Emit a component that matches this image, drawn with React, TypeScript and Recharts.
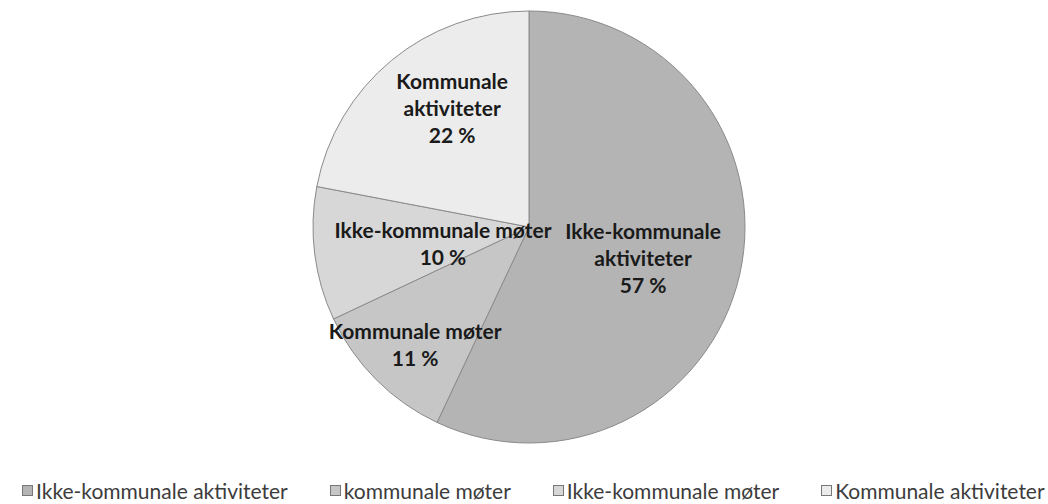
import { PieChart, Pie, Cell, Legend } from 'recharts';

const categories = ['Ikke-kommunale aktiviteter', 'Kommunale møter', 'Ikke-kommunale møter', 'Kommunale aktiviteter'];
const shares = [57, 11, 10, 22];
const labelLines = [
  ['Ikke-kommunale', 'aktiviteter', '57 %'],
  ['Kommunale møter', '11 %'],
  ['Ikke-kommunale møter', '10 %'],
  ['Kommunale', 'aktiviteter', '22 %'],
];
const legendNames = ['Ikke-kommunale aktiviteter', 'kommunale møter', 'Ikke-kommunale møter', 'Kommunale aktiviteter'];
const colors = ['#b4b4b4', '#c6c6c6', '#d7d7d7', '#ececec'];

const data = categories.map((name, i) => ({ name, value: shares[i] }));

// label placement tweaks: radius factor and clockwise angle shift
const labelPos = [
  { r: 0.546, d: 2.1 },
  { r: 0.755, d: -0.7 },
  { r: 0.405, d: -3.3 },
  { r: 0.66, d: 7 },
];

const RAD = Math.PI / 180;

function renderLabel(props: any) {
  const { cx, cy, midAngle, outerRadius, index } = props;
  const p = labelPos[index];
  const ang = midAngle - p.d;
  const rr = outerRadius * p.r;
  const x = cx + rr * Math.cos(-ang * RAD);
  const y = cy + rr * Math.sin(-ang * RAD);
  const lines = labelLines[index];
  const lh = 27;
  const top = y - ((lines.length - 1) * lh) / 2;
  return (
    <text
      x={x}
      y={top}
      textAnchor="middle"
      dominantBaseline="central"
      fill="#1a1a1a"
      fontFamily="Lato, sans-serif"
      fontWeight={700}
      fontSize={21}
    >
      {lines.map((t, k) => (
        <tspan key={k} x={x} y={top + k * lh}>
          {t}
        </tspan>
      ))}
    </text>
  );
}

function LegendBox() {
  return (
    <div style={{ display: 'flex', gap: 42, paddingLeft: 22, fontFamily: 'Lato, sans-serif', fontSize: 21, color: '#3c3c3c' }}>
      {legendNames.map((n, i) => (
        <div key={n} style={{ display: 'flex', alignItems: 'center' }}>
          <span style={{ width: 9, height: 9, border: '1px solid #777', background: colors[i], marginRight: 3 }} />
          <span>{n}</span>
        </div>
      ))}
    </div>
  );
}

export default function App() {
  return (
    <div style={{ position: 'absolute', left: 0, top: 0, width: 1048, height: 504, background: '#fff' }}>
      <PieChart width={1048} height={504}>
        <Pie
          data={data}
          dataKey="value"
          nameKey="name"
          cx={524}
          cy={222}
          outerRadius={216}
          startAngle={90}
          endAngle={-270}
          stroke="#8a8a8a"
          strokeWidth={1}
          label={renderLabel}
          labelLine={false}
          isAnimationActive={false}
        >
          {data.map((d, i) => (
            <Cell key={d.name} fill={colors[i]} />
          ))}
        </Pie>
        <Legend content={<LegendBox />} wrapperStyle={{ left: 0, top: 478, width: 1048 }} />
      </PieChart>
    </div>
  );
}
